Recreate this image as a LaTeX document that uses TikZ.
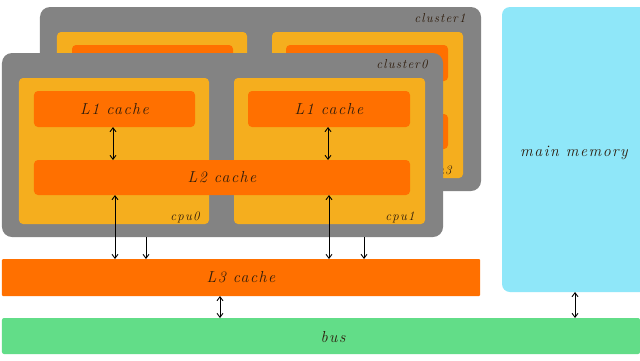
\documentclass[tikz,border=0pt]{standalone}
\usepackage{fontspec}
\setmainfont{Latin Modern Roman}[LetterSpace=9]
\usetikzlibrary{arrows.meta}
\definecolor{cgray}{HTML}{838383}
\definecolor{cyel}{HTML}{F5AE1E}
\definecolor{corg}{HTML}{FF7000}
\definecolor{cgrn}{HTML}{62DD88}
\definecolor{cblu}{HTML}{8FE7F9}
\definecolor{ctxt}{HTML}{2E1C0C}
\tikzset{
  box/.style={inner sep=0pt, outer sep=0pt, rounded corners=4bp},
  clusterbox/.style={box, fill=cgray, rounded corners=10bp},
  cpubox/.style={box, fill=cyel, minimum width=190bp, minimum height=146bp},
  l1box/.style={box, fill=corg, minimum width=161bp, minimum height=36bp},
  lbl/.style={font=\itshape\fontsize{16}{18}\selectfont, text=ctxt},
  small/.style={font=\itshape\fontsize{13}{15}\selectfont, text=ctxt},
  link/.style={line width=0.9bp, black, {Straight Barb[length=4bp,width=6bp]}-{Straight Barb[length=4bp,width=6bp]}},
  onelink/.style={line width=0.9bp, black, -{Straight Barb[length=4bp,width=6bp]}}
}
\begin{document}
\begin{tikzpicture}[x=1bp, y=-1bp]
\clip (0,0) rectangle (640,360);
\fill[white] (0,0) rectangle (640,360);
% cluster1 (behind)
\node[clusterbox, minimum width=441bp, minimum height=184bp] (cl1) at (260.5,99) {};
\node[small, anchor=east] (cl1t) at (469,18) {cluster1};
\node[cpubox] (c2) at (152,105) {};
\node[cpubox, minimum width=191bp] (c3) at (367.5,105) {};
\node[l1box] (l1c) at (152.5,63) {};
\node[l1box, minimum width=162bp] (l1d) at (367,63) {};
\node[box, fill=corg, minimum width=376bp, minimum height=35bp] (l2b) at (260,131.5) {};
\node[small] (c3t) at (437,171) {cpu3};
% cluster0
\node[clusterbox, minimum width=441bp, minimum height=184bp] (cl0) at (222.5,145) {};
\node[small, anchor=east] (cl0t) at (431,64) {cluster0};
\node[cpubox] (c0) at (114,151) {};
\node[cpubox, minimum width=191bp] (c1) at (329.5,151) {};
\node[l1box, lbl] (l1a) at (114.5,109) {L1 cache};
\node[l1box, lbl, minimum width=162bp] (l1b) at (329,109) {L1 cache};
\node[box, fill=corg, lbl, minimum width=376bp, minimum height=35bp] (l2) at (222,177.5) {L2 cache};
\node[small] (c0t) at (185,217) {cpu0};
\node[small] (c1t) at (400,217) {cpu1};
% L3, bus, memory
\node[box, rounded corners=1bp, fill=corg, lbl, minimum width=478bp, minimum height=37bp] (l3) at (241,277.5) {L3 cache};
\node[box, rounded corners=2bp, fill=cgrn, minimum width=638bp, minimum height=36bp] (bus) at (321,336) {};
\node[lbl] (bust) at (333,337) {bus};
\node[box, rounded corners=8bp, fill=cblu, minimum width=158bp, minimum height=285bp] (mem) at (581,149.5) {};
\node[lbl] (memt) at (574,153) {main memory};
% connectors
\coordinate (a1) at (113,0);
\coordinate (a2) at (328,0);
\coordinate (a3) at (115,0);
\coordinate (a4) at (146,0);
\coordinate (a5) at (329,0);
\coordinate (a6) at (364,0);
\coordinate (a7) at (220,0);
\coordinate (a8) at (575,0);
\draw[link] (l1a.south -| a1) -- (l2.north -| a1);
\draw[link] (l1b.south -| a2) -- (l2.north -| a2);
\draw[link] (l2.south -| a3) -- (l3.north -| a3);
\draw[onelink] (cl0.south -| a4) -- (l3.north -| a4);
\draw[link] (l2.south -| a5) -- (l3.north -| a5);
\draw[onelink] (cl0.south -| a6) -- (l3.north -| a6);
\draw[link] (l3.south -| a7) -- (bus.north -| a7);
\draw[link] (mem.south -| a8) -- (bus.north -| a8);
\end{tikzpicture}
\end{document}
